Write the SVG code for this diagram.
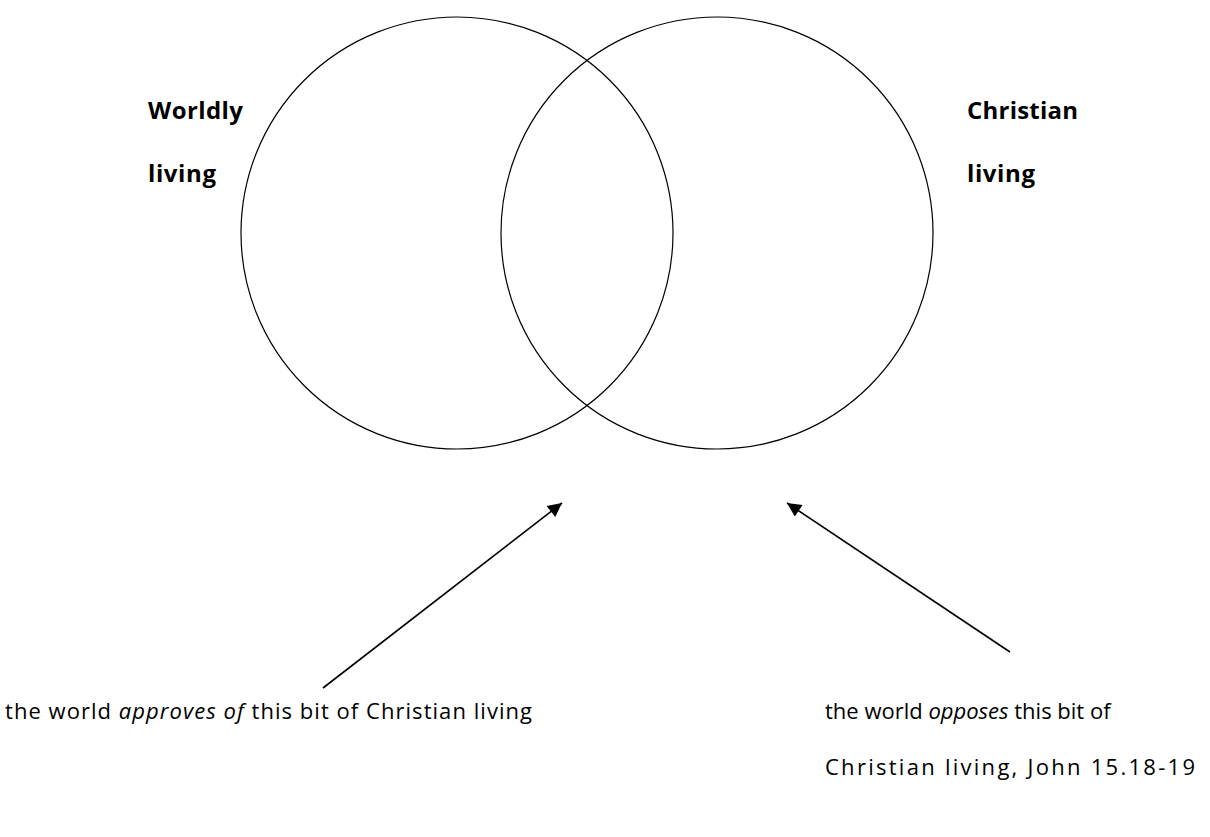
<svg xmlns="http://www.w3.org/2000/svg" width="1210" height="837" viewBox="0 0 1210 837">
<style>
.c{fill:none;stroke:#000;stroke-width:1.2}
.t{font-family:"Open Sans",Lato,"Liberation Sans",sans-serif;font-size:22px;fill:#000}
.b{font-weight:bold;font-size:24px}
.i{font-style:italic}
.a{stroke:#000;stroke-width:1.6;fill:none}
</style>
<defs>
<marker id="ah2" viewBox="0 0 10 10" refX="10" refY="5" markerWidth="16" markerHeight="14" markerUnits="userSpaceOnUse" orient="auto">
<path d="M0,0 L10,5 L0,10 z" fill="#000"/>
</marker>
</defs>
<rect width="1210" height="837" fill="#fff"/>
<g id="worldly">
<circle class="c" cx="457" cy="233" r="216"/>
<text class="t b" x="148" y="119" textLength="95" lengthAdjust="spacing">Worldly</text>
<text class="t b" x="148" y="182" textLength="68" lengthAdjust="spacing">living</text>
</g>
<g id="christian">
<circle class="c" cx="717" cy="233" r="216"/>
<text class="t b" x="967" y="119" textLength="111" lengthAdjust="spacing">Christian</text>
<text class="t b" x="967" y="182" textLength="68" lengthAdjust="spacing">living</text>
</g>
<g id="approves">
<text class="t" x="5" y="719" textLength="527" lengthAdjust="spacing">the world <tspan class="i">approves of</tspan> this bit of Christian living</text>
</g>
<g id="opposes">
<text class="t" x="825" y="719">the world <tspan class="i">opposes</tspan> this bit of</text>
<text class="t" x="825" y="775" textLength="370" lengthAdjust="spacing">Christian living, John 15.18-19</text>
</g>
<g id="connectors">
<line class="a" x1="323" y1="688" x2="562" y2="503" marker-end="url(#ah2)"/>
<line class="a" x1="1010" y1="652" x2="787" y2="503" marker-end="url(#ah2)"/>
</g>
</svg>
